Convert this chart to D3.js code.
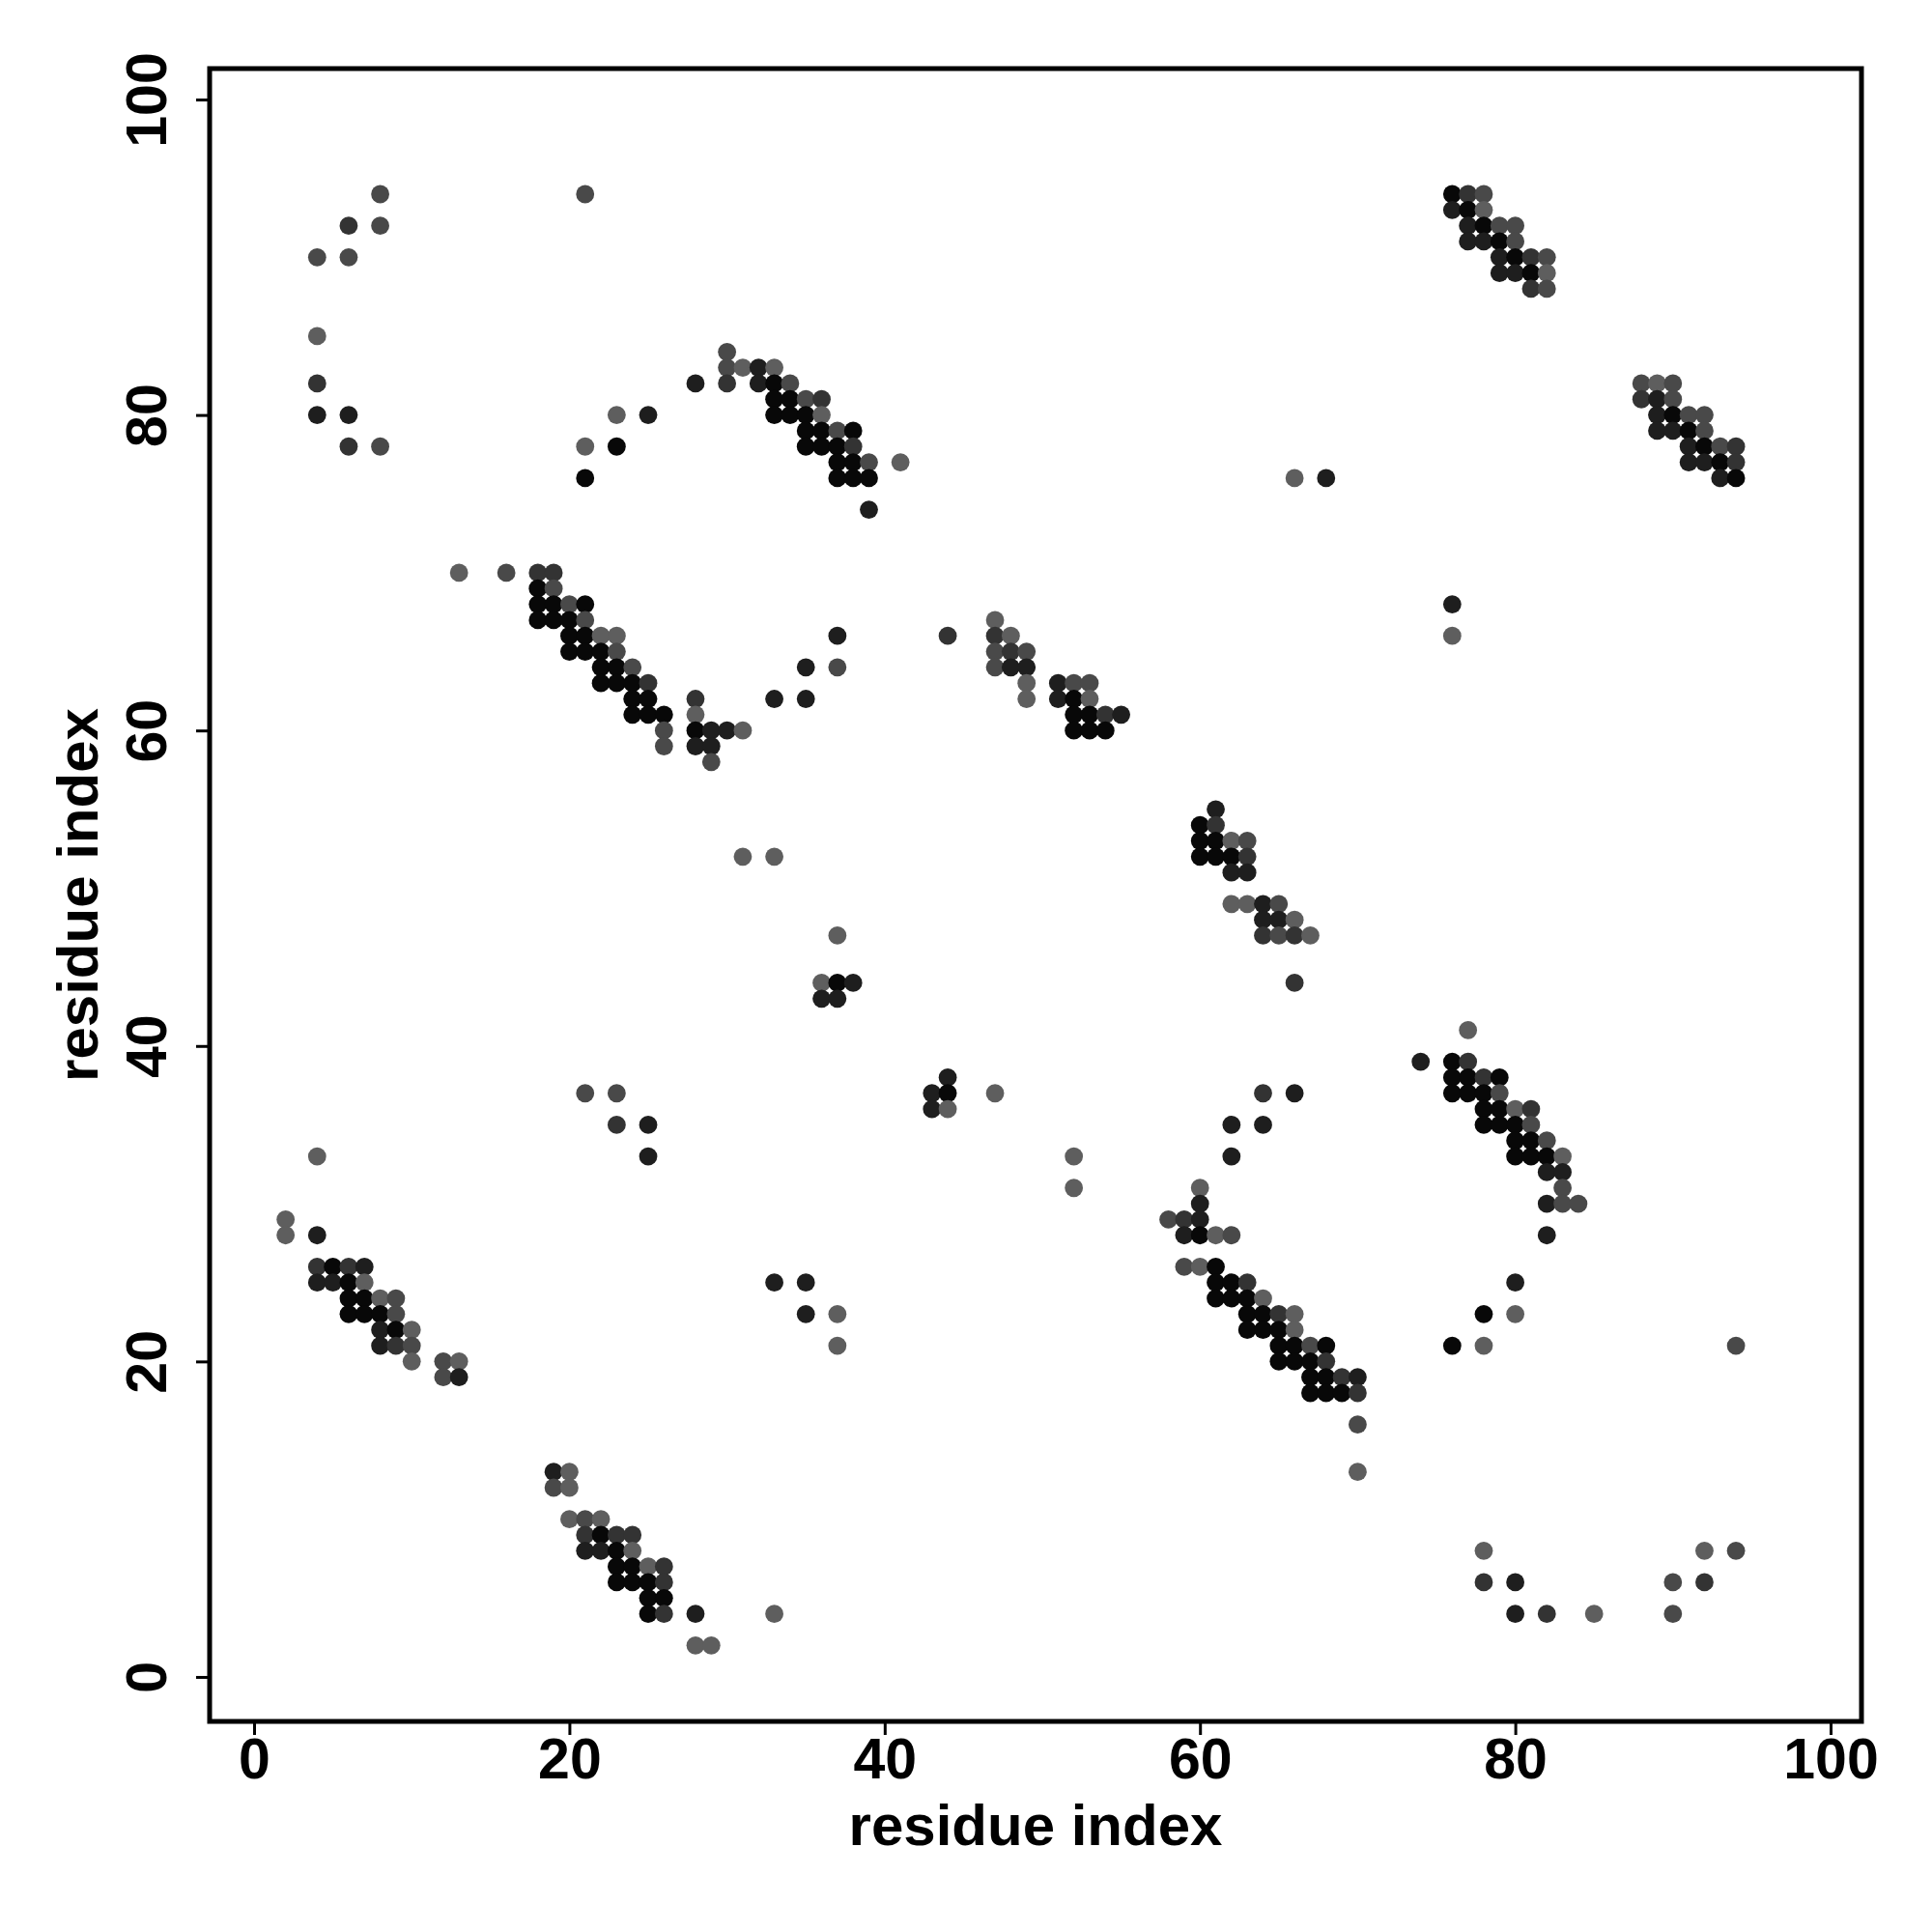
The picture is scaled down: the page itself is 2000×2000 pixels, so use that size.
<!DOCTYPE html>
<html>
<head>
<meta charset="utf-8">
<script src="https://cdn.jsdelivr.net/npm/d3@7"></script>
<style>
  body { margin: 0; background: #fff; }
  text { font-family: "Liberation Sans", Arial, sans-serif; font-weight: bold; }
</style>
</head>
<body>
<svg id="chart" width="2000" height="2000"></svg>
<script>
// contacts as [i, j, shade], shade 0 (light grey) .. 4 (black)
const topLeftContacts = [
  [8,94,1],[21,94,1],[6,92,2],[8,92,1],[4,90,1],[6,90,1],[4,85,0],[4,82,2],
  [4,80,3],[6,80,3],[23,80,0],[25,80,3],[6,78,2],[8,78,1],[21,78,0],[23,78,4],[21,76,4]
];
const band28to41 = [
  [30,84,1],
  [30,83,1],[31,83,0],[32,83,3],[33,83,0],
  [28,82,3],[30,82,2],[32,82,3],[33,82,4],[34,82,1],
  [33,81,4],[34,81,4],[35,81,1],[36,81,2],
  [33,80,4],[34,80,4],[35,80,4],[36,80,0],
  [35,79,4],[36,79,4],[37,79,1],[38,79,4],
  [35,78,4],[36,78,4],[37,78,4],[38,78,2],
  [37,77,4],[38,77,4],[39,77,1],[41,77,0],
  [37,76,4],[38,76,4],[39,76,4],
  [39,74,3]
];
const band13to31 = [
  [13,70,0],[16,70,1],[18,70,2],[19,70,2],
  [18,69,4],[19,69,1],
  [18,68,4],[19,68,4],[20,68,1],[21,68,4],
  [18,67,4],[19,67,4],[20,67,4],[21,67,1],
  [20,66,4],[21,66,4],[22,66,0],[23,66,0],
  [20,65,4],[21,65,4],[22,65,4],[23,65,1],
  [22,64,4],[23,64,4],[24,64,1],
  [22,63,4],[23,63,4],[24,63,4],[25,63,2],
  [24,62,4],[25,62,4],[28,62,2],
  [24,61,4],[25,61,4],[26,61,4],[28,61,0],
  [26,60,1],[28,60,4],[29,60,3],[30,60,3],[31,60,0],
  [26,59,1],[28,59,3],[29,59,3],
  [29,58,1]
];
const middleContacts = [
  [33,62,3],[35,62,3],[35,64,3],[37,64,1],[37,66,3],[44,66,2],
  [31,52,0],[33,52,0],
  [37,47,0],[36,44,0],[37,44,4],[38,44,3],[36,43,3],[37,43,3],
  [44,38,3],[43,37,3],[44,37,4],[47,37,0],[43,36,3],[44,36,0],[52,33,0],[52,31,0],
  [21,37,1],[23,37,1],[23,35,2],[25,35,3],[25,33,3],
  [33,25,3],[35,25,3],[35,23,3],[37,23,0],[37,21,0]
];
const band47to55 = [
  [47,67,0],
  [47,66,2],[48,66,0],
  [47,65,1],[48,65,2],[49,65,1],
  [47,64,1],[48,64,3],[49,64,3],
  [49,63,0],[51,63,3],[52,63,1],[53,63,1],
  [49,62,0],[51,62,3],[52,62,4],[53,62,0],
  [52,61,4],[53,61,4],[54,61,2],[55,61,3],
  [52,60,4],[53,60,4],[54,60,4]
];
const band60to67 = [
  [61,55,3],
  [60,54,4],[61,54,2],
  [60,53,4],[61,53,4],[62,53,0],[63,53,1],
  [60,52,4],[61,52,4],[62,52,4],[63,52,2],
  [62,51,3],[63,51,3],
  [62,49,0],[63,49,0],[64,49,3],[65,49,1],
  [64,48,3],[65,48,3],[66,48,0],
  [64,47,2],[65,47,1],[66,47,2],[67,47,0],
  [66,44,2]
];
const band58to70 = [
  [62,35,3],[64,35,3],[64,37,2],[66,37,3],
  [62,33,3],[60,31,0],[60,30,3],
  [58,29,1],[59,29,2],[60,29,3],
  [59,28,3],[60,28,4],[61,28,0],[62,28,1],
  [59,26,1],[60,26,0],[61,26,4],
  [61,25,4],[62,25,4],[63,25,2],
  [61,24,4],[62,24,4],[63,24,4],[64,24,0],
  [63,23,4],[64,23,4],[65,23,2],[66,23,0],
  [63,22,4],[64,22,4],[65,22,4],[66,22,0],
  [65,21,4],[66,21,4],[67,21,1],[68,21,4],
  [65,20,4],[66,20,4],[67,20,4],[68,20,2],
  [67,19,4],[68,19,4],[69,19,2],[70,19,3],
  [67,18,4],[68,18,4],[69,18,4],[70,18,2],
  [70,16,1],[70,13,0]
];
const band74to84 = [
  [77,41,0],
  [74,39,3],[76,39,4],[77,39,2],
  [76,38,4],[77,38,4],[78,38,2],[79,38,4],
  [76,37,4],[77,37,4],[78,37,4],[79,37,1],
  [78,36,4],[79,36,4],[80,36,0],[81,36,2],
  [78,35,4],[79,35,4],[80,35,4],[81,35,1],
  [80,34,4],[81,34,4],[82,34,1],
  [80,33,4],[81,33,4],[82,33,4],[83,33,0],
  [82,32,3],[83,32,3],
  [83,31,1],[82,30,3],[83,30,1],[84,30,1],[82,28,3]
];
const band76to82 = [
  [76,94,4],[77,94,2],[78,94,1],
  [76,93,3],[77,93,4],[78,93,0],
  [77,92,3],[78,92,4],[79,92,1],[80,92,1],
  [77,91,3],[78,91,3],[79,91,4],[80,91,1],
  [79,90,3],[80,90,4],[81,90,2],[82,90,1],
  [79,89,3],[80,89,3],[81,89,4],[82,89,0],
  [81,88,2],[82,88,1]
];
const band88to94 = [
  [88,82,1],[89,82,0],[90,82,1],
  [88,81,2],[89,81,3],[90,81,1],
  [89,80,3],[90,80,4],[91,80,1],[92,80,1],
  [89,79,3],[90,79,3],[91,79,4],[92,79,1],
  [91,78,3],[92,78,4],[93,78,1],[94,78,2],
  [91,77,3],[92,77,3],[93,77,4],[94,77,2],
  [93,76,3],[94,76,4]
];
const rightContacts = [
  [66,76,0],[68,76,3],[76,68,3],[76,66,0],
  [80,25,3],[78,23,4],[80,23,0],[76,21,4],[78,21,0],[94,21,1],
  [78,8,0],[92,8,0],[94,8,1],
  [78,6,2],[80,6,3],[90,6,1],[92,6,2],
  [80,4,3],[82,4,2],[85,4,0],[90,4,1]
];
const lowerLeftContacts = [
  [4,33,0],[2,29,0],[2,28,0],[4,28,3],
  [4,26,2],[5,26,4],[6,26,2],[7,26,3],
  [4,25,3],[5,25,3],[6,25,4],[7,25,0],
  [6,24,4],[7,24,4],[8,24,0],[9,24,1],
  [6,23,4],[7,23,4],[8,23,4],[9,23,1],
  [8,22,3],[9,22,4],[10,22,0],
  [8,21,3],[9,21,2],[10,21,1],
  [10,20,0],[12,20,1],[13,20,0],
  [12,19,1],[13,19,3]
];
const band19to33 = [
  [19,13,3],[20,13,0],[19,12,1],[20,12,0],
  [20,10,0],[21,10,1],[22,10,0],
  [21,9,2],[22,9,4],[23,9,2],[24,9,2],
  [21,8,3],[22,8,3],[23,8,4],[24,8,0],
  [23,7,4],[24,7,4],[25,7,0],[26,7,2],
  [23,6,4],[24,6,4],[25,6,4],[26,6,2],
  [25,5,4],[26,5,4],
  [25,4,4],[26,4,2],[28,4,3],[33,4,0],
  [28,2,0],[29,2,0]
];
const tickValues = [0, 20, 40, 60, 80, 100];
const xLabel = "residue index";
const yLabel = "residue index";

const contacts = [].concat(topLeftContacts, band28to41, band13to31, middleContacts,
  band47to55, band60to67, band58to70, band74to84, band76to82, band88to94,
  rightContacts, lowerLeftContacts, band19to33);

const svg = d3.select('#chart');
const box = {left: 217, right: 1927, top: 71, bottom: 1782};
const lims = [-2.82, 101.96];

const xScale = d3.scaleLinear().domain(lims).range([box.left, box.right]);
const yScale = d3.scaleLinear().domain(lims).range([box.bottom, box.top]);
const shade = d3.scaleLinear().domain([0, 4]).range(['#5e5e5e', '#080808']);

svg.append('g').selectAll('circle').data(contacts).join('circle')
  .attr('cx', d => xScale(d[0]))
  .attr('cy', d => yScale(d[1]))
  .attr('r', 9.4)
  .attr('fill', d => shade(d[2]));

// frame
svg.append('rect')
  .attr('x', box.left).attr('y', box.top)
  .attr('width', box.right - box.left).attr('height', box.bottom - box.top)
  .attr('fill', 'none').attr('stroke', '#000').attr('stroke-width', 5);

const xAxis = d3.axisBottom(xScale).tickValues(tickValues).tickSize(14).tickSizeOuter(0);
const yAxis = d3.axisLeft(yScale).tickValues(tickValues).tickSize(14).tickSizeOuter(0);

const xAxisG = svg.append('g').attr('transform', `translate(0,${box.bottom})`).call(xAxis);
const yAxisG = svg.append('g').attr('transform', `translate(${box.left},0)`).call(yAxis);

[xAxisG, yAxisG].forEach(g => {
  g.select('.domain').remove();
  g.selectAll('.tick line').attr('stroke', '#000').attr('stroke-width', 3);
  g.selectAll('.tick text').attr('fill', '#000').style('font-size', '59px');
});
xAxisG.selectAll('.tick text').attr('dy', null).attr('y', 59);

// R-style rotated y tick labels
yAxisG.selectAll('.tick text')
  .attr('x', null).attr('dy', null)
  .attr('text-anchor', 'middle')
  .attr('transform', 'translate(-45,0) rotate(-90)');

svg.append('text')
  .attr('x', (box.left + box.right) / 2).attr('y', 1910)
  .attr('text-anchor', 'middle').style('font-size', '60px')
  .text(xLabel);

svg.append('text')
  .attr('transform', `translate(101,${(box.top + box.bottom) / 2}) rotate(-90)`)
  .attr('text-anchor', 'middle').style('font-size', '60px')
  .text(yLabel);
</script>
</body>
</html>
